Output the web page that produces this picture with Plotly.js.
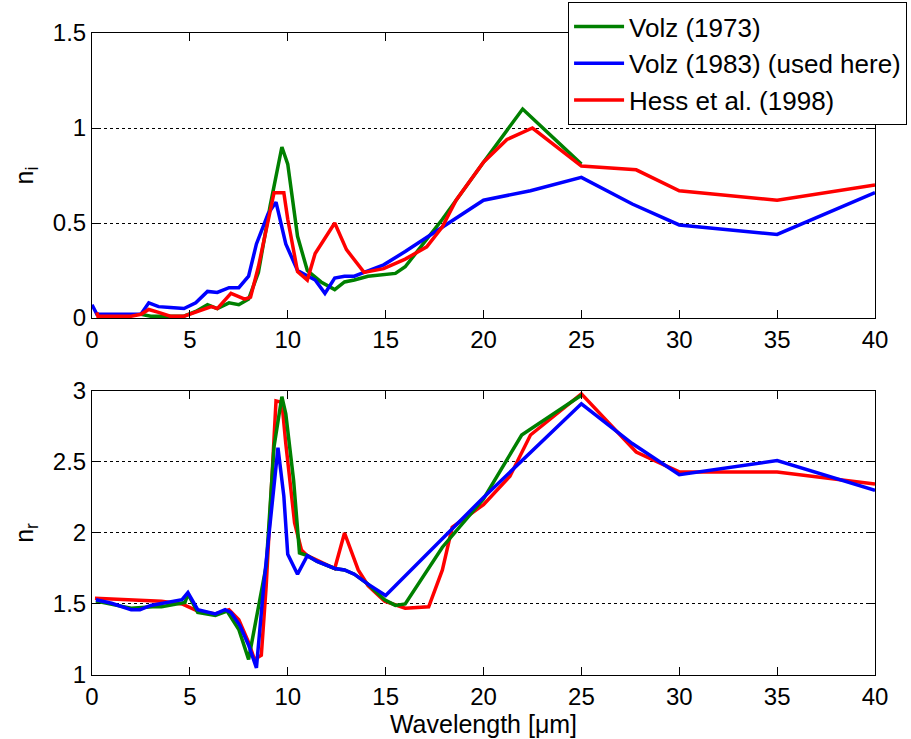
<!DOCTYPE html>
<html>
<head>
<meta charset="utf-8">
<script src="https://cdn.plot.ly/plotly-3.0.1.min.js"></script>
<style>html,body{margin:0;padding:0;background:#fff;}#chart{width:911px;height:739px;}</style>
</head>
<body>
<div id="chart"></div>
<script>
// ---- Data ----
var seriesNames = ["Volz (1973)", "Volz (1983) (used here)", "Hess et al. (1998)"];

// Imaginary part n_i
var volz73_ni_x = [2.5, 3.0, 4.0, 4.7, 5.3, 5.9, 6.4, 7.0, 7.5, 8.0, 8.5, 9.1, 9.7, 10.0, 10.5, 11.0, 11.7, 12.4, 12.9, 13.4, 14.1, 15.5, 16.0, 17.9, 20.0, 22.0, 25.0];
var volz73_ni   = [0.02, 0.01, 0.01, 0.01, 0.035, 0.07, 0.05, 0.08, 0.07, 0.10, 0.24, 0.59, 0.90, 0.81, 0.43, 0.25, 0.19, 0.15, 0.19, 0.20, 0.22, 0.235, 0.27, 0.52, 0.82, 1.10, 0.81];

var volz83_ni_x = [0.0, 0.25, 1.0, 2.5, 2.9, 3.4, 4.0, 4.7, 5.3, 5.9, 6.4, 7.0, 7.5, 8.0, 8.4, 9.0, 9.4, 9.9, 10.5, 11.4, 11.9, 12.4, 12.9, 13.4, 13.9, 14.9, 16.0, 17.9, 20.0, 22.4, 25.0, 27.6, 30.0, 35.0, 40.0];
var volz83_ni   = [0.07, 0.02, 0.02, 0.02, 0.08, 0.06, 0.055, 0.05, 0.08, 0.14, 0.135, 0.16, 0.16, 0.22, 0.39, 0.55, 0.61, 0.39, 0.25, 0.20, 0.13, 0.21, 0.22, 0.22, 0.24, 0.28, 0.35, 0.48, 0.62, 0.67, 0.74, 0.60, 0.49, 0.44, 0.66];

var hess_ni_x = [0.25, 0.3, 1.0, 2.0, 2.5, 2.9, 3.4, 4.0, 4.7, 5.4, 6.1, 6.4, 7.1, 7.8, 8.1, 8.5, 8.9, 9.3, 9.8, 10.0, 10.5, 11.0, 11.4, 12.4, 13.0, 13.9, 14.9, 16.0, 17.1, 17.9, 18.6, 20.0, 21.2, 22.5, 25.0, 27.8, 30.0, 35.0, 40.0];
var hess_ni   = [0.03, 0.01, 0.01, 0.01, 0.02, 0.045, 0.03, 0.01, 0.01, 0.035, 0.06, 0.05, 0.13, 0.10, 0.11, 0.27, 0.46, 0.66, 0.66, 0.52, 0.245, 0.20, 0.34, 0.50, 0.36, 0.24, 0.26, 0.31, 0.375, 0.48, 0.62, 0.82, 0.94, 1.00, 0.80, 0.78, 0.67, 0.62, 0.70];

// Real part n_r
var volz73_nr_x = [0.2, 1.0, 2.0, 3.1, 3.55, 4.75, 4.9, 5.4, 6.3, 6.9, 7.5, 8.0, 8.9, 9.3, 9.7, 9.9, 10.3, 10.6, 11.0, 11.5, 12.4, 12.9, 13.4, 14.1, 14.95, 15.5, 16.0, 17.9, 20.0, 21.95, 25.0];
var volz73_nr   = [1.52, 1.50, 1.47, 1.48, 1.48, 1.51, 1.57, 1.44, 1.42, 1.45, 1.32, 1.11, 1.77, 2.61, 2.96, 2.84, 2.37, 1.86, 1.84, 1.80, 1.75, 1.74, 1.71, 1.64, 1.53, 1.49, 1.50, 1.90, 2.24, 2.69, 2.97];

var volz83_nr_x = [0.2, 1.0, 2.0, 2.45, 3.0, 4.2, 4.6, 4.9, 5.4, 6.3, 6.8, 7.1, 7.55, 8.0, 8.4, 8.8, 9.2, 9.5, 9.8, 10.0, 10.5, 11.0, 11.5, 12.4, 12.9, 13.4, 14.1, 15.0, 20.0, 25.0, 27.6, 30.0, 35.0, 40.0];
var volz83_nr   = [1.53, 1.505, 1.46, 1.46, 1.49, 1.52, 1.53, 1.58, 1.46, 1.43, 1.46, 1.44, 1.35, 1.21, 1.05, 1.67, 2.21, 2.60, 2.26, 1.85, 1.71, 1.84, 1.80, 1.75, 1.74, 1.71, 1.64, 1.56, 2.25, 2.91, 2.63, 2.41, 2.51, 2.30];

var hess_nr_x = [0.15, 2.2, 3.55, 4.6, 5.4, 6.3, 7.0, 7.5, 8.0, 8.3, 8.65, 8.9, 9.4, 9.7, 9.9, 10.35, 10.7, 11.0, 12.4, 12.9, 13.6, 14.1, 14.95, 16.0, 17.2, 17.9, 18.4, 20.0, 21.35, 22.4, 25.0, 27.8, 30.0, 35.0, 40.0];
var hess_nr   = [1.54, 1.53, 1.52, 1.50, 1.45, 1.43, 1.46, 1.39, 1.23, 1.11, 1.14, 1.63, 2.93, 2.92, 2.63, 2.07, 1.88, 1.84, 1.75, 2.00, 1.74, 1.63, 1.52, 1.47, 1.48, 1.74, 2.04, 2.20, 2.40, 2.69, 2.98, 2.57, 2.43, 2.43, 2.345];

var xTickVals = [0, 5, 10, 15, 20, 25, 30, 35, 40];
var niTickVals = [0, 0.5, 1, 1.5];
var niTickText = ["0", "0.5", "1", "1.5"];
var nrTickVals = [1, 1.5, 2, 2.5, 3];
var nrTickText = ["1", "1.5", "2", "2.5", "3"];

// ---- Styles ----
var cGreen = "#008000", cBlue = "#0000ff", cRed = "#ff0000";
var FONT = "Liberation Sans, Arial, sans-serif";

function tr(x, y, name, color, xa, ya, show, grp) {
  return {x: x, y: y, name: name, type: "scatter", mode: "lines",
          line: {color: color, width: 3.5}, xaxis: xa, yaxis: ya,
          showlegend: show, legendgroup: grp};
}

var data = [
  tr(volz73_ni_x, volz73_ni, seriesNames[0], cGreen, "x", "y", true, "g1"),
  tr(volz83_ni_x, volz83_ni, seriesNames[1], cBlue, "x", "y", true, "g2"),
  tr(hess_ni_x, hess_ni, seriesNames[2], cRed, "x", "y", true, "g3"),
  tr(hess_nr_x, hess_nr, seriesNames[2], cRed, "x2", "y2", false, "g3"),
  tr(volz73_nr_x, volz73_nr, seriesNames[0], cGreen, "x2", "y2", false, "g1"),
  tr(volz83_nr_x, volz83_nr, seriesNames[1], cBlue, "x2", "y2", false, "g2")
];

function xax(anchor, title) {
  var a = {range: [0, 40], tickvals: xTickVals, ticktext: xTickVals.map(String),
    ticks: "inside", ticklen: 8, tickcolor: "#000", mirror: "ticks",
    showline: true, linecolor: "#000", linewidth: 1, showgrid: false, zeroline: false,
    tickfont: {family: FONT, size: 24, color: "#000"}, anchor: anchor, automargin: false};
  if (title) a.title = {text: title, font: {family: FONT, size: 25, color: "#000"}, standoff: 2};
  return a;
}
function yax(domain, range, tv, tt, title) {
  return {domain: domain, range: range, tickvals: tv, ticktext: tt,
    ticks: "inside", ticklen: 8, tickcolor: "#000", mirror: "ticks",
    showline: true, linecolor: "#000", linewidth: 1,
    showgrid: true, gridcolor: "#000", gridwidth: 1, griddash: "dot", zeroline: false,
    tickfont: {family: FONT, size: 24, color: "#000"}, automargin: false,
    title: {text: title, font: {family: FONT, size: 25, color: "#000"}, standoff: 12}};
}

var layout = {
  width: 911, height: 739,
  margin: {l: 92, r: 36, t: 33, b: 64, autoexpand: false},
  paper_bgcolor: "#fff", plot_bgcolor: "#fff",
  font: {family: FONT, color: "#000"},
  xaxis: xax("y", null),
  yaxis: yax([0.556, 1], [0, 1.5], niTickVals, niTickText, "n<sub>i</sub>"),
  xaxis2: xax("y2", "Wavelength [\u03bcm]"),
  yaxis2: yax([0, 0.4424], [1, 3], nrTickVals, nrTickText, "n<sub>r</sub>"),
  legend: {x: 0.608, y: 1.0483, xanchor: "left", yanchor: "top",
    bgcolor: "#fff", bordercolor: "#000", borderwidth: 1,
    font: {family: FONT, size: 26, color: "#000"},
    itemwidth: 50, traceorder: "grouped", tracegroupgap: 0},
  showlegend: true
};

Plotly.newPlot("chart", data, layout, {displayModeBar: false, staticPlot: true});
</script>
</body>
</html>
